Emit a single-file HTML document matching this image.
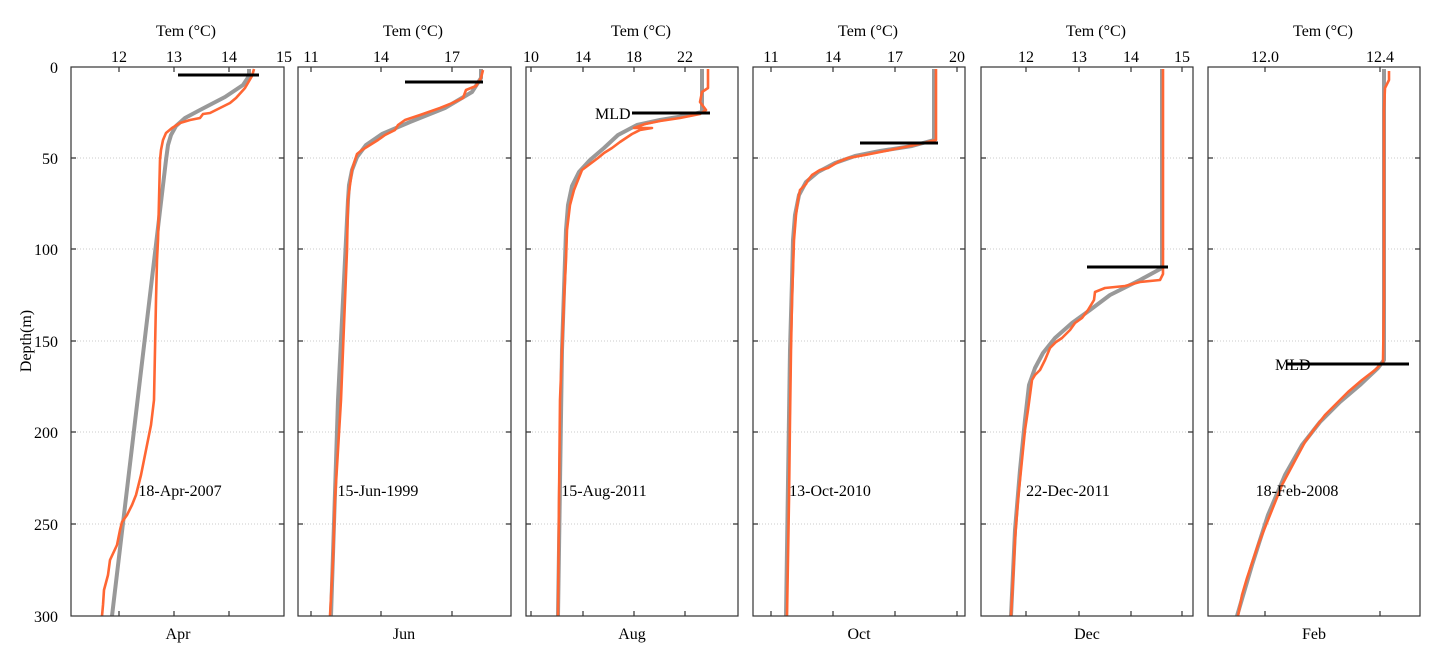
<!DOCTYPE html>
<html><head><meta charset="utf-8"><style>
html,body{margin:0;padding:0;background:#fff}
svg{display:block}
text{font-family:"Liberation Serif",serif;font-size:16px;fill:#000}
.ax{fill:none;stroke:#333;stroke-width:1.2}
.g{fill:none;stroke:#999;stroke-width:4;stroke-linejoin:round}
.o{fill:none;stroke:#ff6633;stroke-width:2.6;stroke-linejoin:round}
.m{stroke:#000;stroke-width:3}
.grid{stroke:#bbb;stroke-width:0.8;stroke-dasharray:1,2}
</style></head><body>
<svg width="1435" height="670" viewBox="0 0 1435 670">
<g text-anchor="end">
<text x="58" y="73">0</text><text x="58" y="164">50</text><text x="58" y="255">100</text>
<text x="58" y="347">150</text><text x="58" y="438">200</text><text x="58" y="530">250</text><text x="58" y="622">300</text>
</g>
<text x="31" y="341" text-anchor="middle" transform="rotate(-90 31 341)">Depth(m)</text>

<g class="grid">
<line x1="71" x2="284" y1="158" y2="158"/><line x1="71" x2="284" y1="249" y2="249"/><line x1="71" x2="284" y1="341" y2="341"/><line x1="71" x2="284" y1="432" y2="432"/><line x1="71" x2="284" y1="524" y2="524"/>
<line x1="298" x2="511" y1="158" y2="158"/><line x1="298" x2="511" y1="249" y2="249"/><line x1="298" x2="511" y1="341" y2="341"/><line x1="298" x2="511" y1="432" y2="432"/><line x1="298" x2="511" y1="524" y2="524"/>
<line x1="526" x2="738" y1="158" y2="158"/><line x1="526" x2="738" y1="249" y2="249"/><line x1="526" x2="738" y1="341" y2="341"/><line x1="526" x2="738" y1="432" y2="432"/><line x1="526" x2="738" y1="524" y2="524"/>
<line x1="753" x2="965" y1="158" y2="158"/><line x1="753" x2="965" y1="249" y2="249"/><line x1="753" x2="965" y1="341" y2="341"/><line x1="753" x2="965" y1="432" y2="432"/><line x1="753" x2="965" y1="524" y2="524"/>
<line x1="981" x2="1193" y1="158" y2="158"/><line x1="981" x2="1193" y1="249" y2="249"/><line x1="981" x2="1193" y1="341" y2="341"/><line x1="981" x2="1193" y1="432" y2="432"/><line x1="981" x2="1193" y1="524" y2="524"/>
<line x1="1208" x2="1420" y1="158" y2="158"/><line x1="1208" x2="1420" y1="249" y2="249"/><line x1="1208" x2="1420" y1="341" y2="341"/><line x1="1208" x2="1420" y1="432" y2="432"/><line x1="1208" x2="1420" y1="524" y2="524"/>
</g>

<polyline class="g" points="249,69 249,76 243,85 225,97 200,110 185,118 176,126 171,135 168,145 166,160 112,616"/>
<polyline class="o" points="254,69 252,76 245,88 236,98 230,103 220,108 210,113 203,114 200,118 190,120 180,123 172,128 166,133 163,140 161,150 160,160 159,200 158,240 157,260 156,300 155,350 154,400 151,425 148,440 144,460 141,475 136,495 132,505 127,515 122,522 120,530 117,545 110,560 108,575 104,590 103,605 102,616"/>
<line class="m" x1="178" x2="259" y1="75" y2="75"/>

<polyline class="g" points="481,69 481,78 472,92 445,108 410,122 382,134 366,145 357,157 352,170 349,185 348,200 345,260 338,400 331,616"/>
<polyline class="o" points="483,70 481,78 476,86 466,90 463,98 450,104 440,108 420,115 405,120 398,125 395,130 385,135 378,140 370,145 362,150 357,154 355,160 352,170 350,185 348,200 347,250 345,300 343,350 341,400 338,450 335,500 333,560 330,616"/>
<line class="m" x1="405" x2="483" y1="82" y2="82"/>

<polyline class="g" points="702,69 702,112 690,115 660,120 637,125 618,135 604,148 590,160 579,172 572,186 568,205 566,230 565,260 562,350 558,616"/>
<polyline class="o" points="708,69 708,88 702,92 700,102 706,110 700,114 680,118 660,121 645,124 634,128 652,128 640,130 632,134 620,142 612,148 604,153 598,158 590,164 582,170 578,180 574,190 570,205 567,230 566,260 564,300 562,350 560,400 559,500 558,616"/>
<line class="m" x1="632" x2="710" y1="113" y2="113"/>
<text x="595" y="119">MLD</text>

<polyline class="g" points="934,69 934,140 912,146 880,151 855,156 835,163 818,172 806,182 799,195 795,215 793,240 792,280 790,350 786,616"/>
<polyline class="o" points="936,69 936,140 915,145 890,150 865,155 848,158 838,162 828,168 820,170 812,175 808,180 806,184 800,190 798,200 796,215 794,240 793,270 792,300 791,350 790,420 789,500 787,616"/>
<line class="m" x1="860" x2="938" y1="143" y2="143"/>

<polyline class="g" points="1162,69 1162,268 1140,280 1110,295 1090,310 1072,323 1055,338 1043,353 1035,368 1029,385 1025,420 1020,470 1015,530 1011,616"/>
<polyline class="o" points="1163,69 1163,274 1160,280 1140,282 1125,286 1105,288 1095,292 1094,300 1088,310 1082,318 1075,323 1070,330 1062,338 1056,342 1050,348 1045,360 1040,370 1035,375 1032,380 1030,395 1028,410 1025,430 1022,460 1018,500 1015,540 1013,580 1011,616"/>
<line class="m" x1="1087" x2="1168" y1="267" y2="267"/>

<polyline class="g" points="1384,69 1384,360 1378,368 1360,385 1340,402 1320,422 1302,445 1285,475 1268,515 1252,565 1237,616"/>
<polyline class="o" points="1389,71 1389,80 1385,88 1384,110 1384,200 1384,300 1383,362 1375,370 1362,380 1348,392 1335,405 1325,415 1315,428 1305,442 1298,455 1290,470 1282,485 1276,500 1270,515 1264,530 1258,545 1253,560 1247,578 1242,595 1238,616"/>
<line class="m" x1="1286" x2="1409" y1="364" y2="364"/>
<text x="1275" y="370">MLD</text>

<g class="ax">
<rect x="71" y="67" width="213" height="549"/>
<rect x="298" y="67" width="213" height="549"/>
<rect x="526" y="67" width="212" height="549"/>
<rect x="753" y="67" width="212" height="549"/>
<rect x="981" y="67" width="212" height="549"/>
<rect x="1208" y="67" width="212" height="549"/>
</g>
<g stroke="#333" stroke-width="1.2">
<path d="M71,158h5M71,249h5M71,341h5M71,432h5M71,524h5M284,158h-5M284,249h-5M284,341h-5M284,432h-5M284,524h-5"/>
<path d="M298,158h5M298,249h5M298,341h5M298,432h5M298,524h5M511,158h-5M511,249h-5M511,341h-5M511,432h-5M511,524h-5"/>
<path d="M526,158h5M526,249h5M526,341h5M526,432h5M526,524h5M738,158h-5M738,249h-5M738,341h-5M738,432h-5M738,524h-5"/>
<path d="M753,158h5M753,249h5M753,341h5M753,432h5M753,524h5M965,158h-5M965,249h-5M965,341h-5M965,432h-5M965,524h-5"/>
<path d="M981,158h5M981,249h5M981,341h5M981,432h5M981,524h5M1193,158h-5M1193,249h-5M1193,341h-5M1193,432h-5M1193,524h-5"/>
<path d="M1208,158h5M1208,249h5M1208,341h5M1208,432h5M1208,524h5M1420,158h-5M1420,249h-5M1420,341h-5M1420,432h-5M1420,524h-5"/>
<path d="M119,67v5M174,67v5M229,67v5M119,616v-5M174,616v-5M229,616v-5"/>
<path d="M311,67v5M381,67v5M452,67v5M311,616v-5M381,616v-5M452,616v-5"/>
<path d="M531,67v5M583,67v5M634,67v5M685,67v5M531,616v-5M583,616v-5M634,616v-5M685,616v-5"/>
<path d="M771,67v5M833,67v5M895,67v5M957,67v5M771,616v-5M833,616v-5M895,616v-5M957,616v-5"/>
<path d="M1026,67v5M1079,67v5M1131,67v5M1182,67v5M1026,616v-5M1079,616v-5M1131,616v-5M1182,616v-5"/>
<path d="M1265,67v5M1380,67v5M1265,616v-5M1380,616v-5"/>
</g>
<g text-anchor="middle">
<text x="119" y="62">12</text><text x="174" y="62">13</text><text x="229" y="62">14</text><text x="284" y="62">15</text>
<text x="311" y="62">11</text><text x="381" y="62">14</text><text x="452" y="62">17</text>
<text x="531" y="62">10</text><text x="583" y="62">14</text><text x="634" y="62">18</text><text x="685" y="62">22</text>
<text x="771" y="62">11</text><text x="833" y="62">14</text><text x="895" y="62">17</text><text x="957" y="62">20</text>
<text x="1026" y="62">12</text><text x="1079" y="62">13</text><text x="1131" y="62">14</text><text x="1182" y="62">15</text>
<text x="1265" y="62">12.0</text><text x="1380" y="62">12.4</text>
<text x="186" y="36">Tem (°C)</text><text x="413" y="36">Tem (°C)</text><text x="641" y="36">Tem (°C)</text>
<text x="868" y="36">Tem (°C)</text><text x="1096" y="36">Tem (°C)</text><text x="1323" y="36">Tem (°C)</text>
<text x="178" y="639">Apr</text><text x="404" y="639">Jun</text><text x="632" y="639">Aug</text>
<text x="859" y="639">Oct</text><text x="1087" y="639">Dec</text><text x="1314" y="639">Feb</text>
<text x="180" y="496">18-Apr-2007</text><text x="378" y="496">15-Jun-1999</text><text x="604" y="496">15-Aug-2011</text>
<text x="830" y="496">13-Oct-2010</text><text x="1068" y="496">22-Dec-2011</text><text x="1297" y="496">18-Feb-2008</text>
</g>
</svg>
</body></html>
